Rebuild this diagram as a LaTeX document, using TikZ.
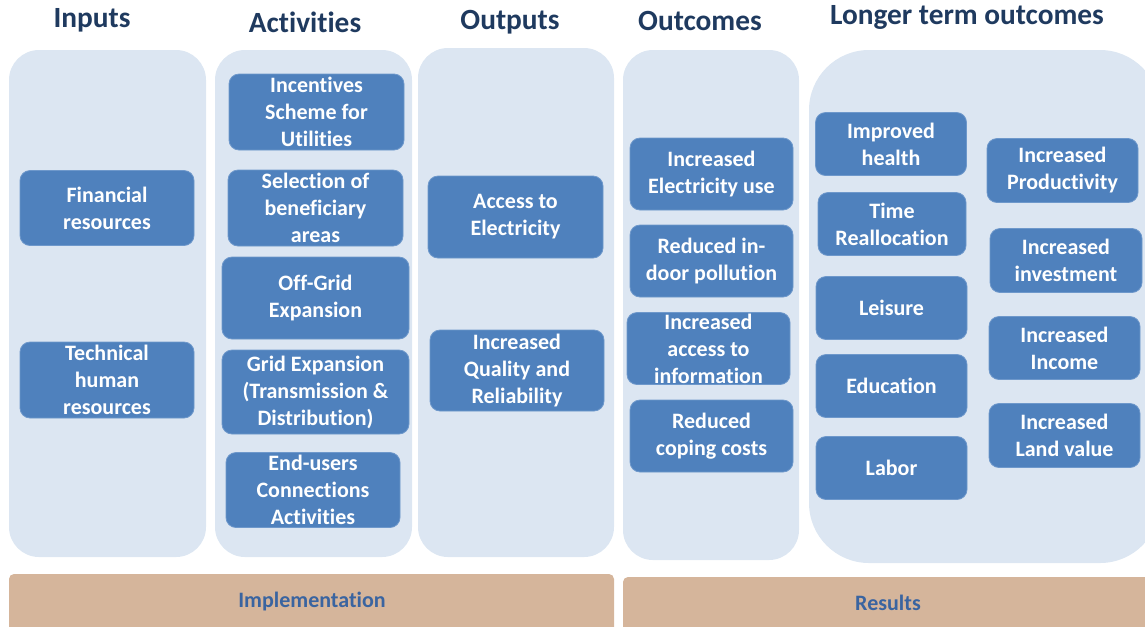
\documentclass[tikz,border=0pt]{standalone}
\usepackage{fontspec}
\setmainfont{Carlito}[Ligatures=NoCommon]
\definecolor{boxblue}{HTML}{4F81BD}
\definecolor{boxline}{HTML}{6E98CB}
\definecolor{panelbg}{HTML}{DCE6F2}
\definecolor{bartan}{HTML}{D5B59B}
\definecolor{headnavy}{HTML}{1F3A5F}
\definecolor{barlabel}{HTML}{3A64A0}

\begin{document}
\begin{tikzpicture}[
    x=0.75pt, y=-0.75pt,
    head/.style = {text=headnavy, font=\bfseries\fontsize{22}{26}\selectfont},
    panel/.style = {fill=panelbg, rounded corners=30*0.75pt},
    bar/.style = {fill=bartan, rounded corners=5*0.75pt},
    barlab/.style = {text=barlabel, font=\bfseries\fontsize{16.5}{20}\selectfont},
    box/.style = {draw=boxline, line width=0.6pt, fill=boxblue, rounded corners=10*0.75pt,
                  text=white, align=center, inner sep=0pt,
                  font=\bfseries\fontsize{16.5}{20.25}\selectfont},
    boxsize/.style 2 args = {minimum width=#1*0.75pt, minimum height=#2*0.75pt}
]
    \useasboundingbox (0,0) rectangle (1145,626);
    \clip (0,0) rectangle (1145,626);

    % --- Column headings ---
    \node[head] (hIn) at (92,20) {Inputs};
    \node[head] (hAct) at (305,22) {Activities};
    \node[head] (hOut) at (510,22) {Outputs};
    \node[head] (hOc) at (700,21) {Outcomes};
    \node[head] (hLt) at (967,17) {Longer term outcomes};

    % --- Background panels ---
    \fill[panel] (9,50) rectangle (206,557);
    \fill[panel] (215,50) rectangle (412,557);
    \fill[panel] (418,48) rectangle (614,557);
    \fill[panel] (623,50) rectangle (799,560);
    \fill[panel, rounded corners=60*0.75pt] (809,50) rectangle (1160,563);

    % --- Inputs ---
    \node[box, boxsize={174}{75}] (fin) at (107,208) {Financial\\resources};
    \node[box, boxsize={174}{76}] (tech) at (107,380) {Technical\\human\\resources};

    % --- Activities ---
    \node[box, boxsize={175}{76}] (incent) at (316.5,112) {Incentives\\Scheme for\\Utilities};
    \node[box, boxsize={175}{76}] (select) at (315.5,208) {Selection of\\beneficiary\\areas};
    \node[box, boxsize={187}{82}] (offgrid) at (315.5,298) {Off-Grid\\Expansion};
    \node[box, boxsize={187}{84}] (grid) at (315.5,392) {Grid Expansion\\(Transmission \&\\Distribution)};
    \node[box, boxsize={174}{75}] (users) at (313,490) {End-users\\Connections\\Activities};

    % --- Outputs ---
    \node[box, boxsize={175}{82}] (access) at (515.5,217) {Access to\\Electricity};
    \node[box, boxsize={174}{81}] (quality) at (517,370.5) {Increased\\Quality and\\Reliability};

    % --- Outcomes ---
    \node[box, boxsize={163}{72}] (elec) at (711.5,174) {Increased\\Electricity use};
    \node[box, boxsize={163}{72}] (pollut) at (711.5,261) {Reduced in-\\door pollution};
    \node[box, boxsize={163}{72}] (info) at (708.5,348.5) {Increased\\access to\\information};
    \node[box, boxsize={163}{72}] (coping) at (711.5,436) {Reduced\\coping costs};

    % --- Longer term outcomes, left column ---
    \node[box, boxsize={151}{63}] (health) at (891,144) {Improved\\health};
    \node[box, boxsize={148}{63}] (time) at (892,224) {Time\\Reallocation};
    \node[box, boxsize={151}{63}] (leisure) at (891.5,308) {Leisure};
    \node[box, boxsize={151}{63}] (educ) at (891.5,386) {Education};
    \node[box, boxsize={151}{63}] (labor) at (891.5,468) {Labor};

    % --- Longer term outcomes, right column ---
    \node[box, boxsize={151}{64}] (prod) at (1062.5,170.5) {Increased\\Productivity};
    \node[box, boxsize={152}{64}] (invest) at (1066,260.5) {Increased\\investment};
    \node[box, boxsize={151}{63}] (income) at (1064.5,348) {Increased\\Income};
    \node[box, boxsize={151}{64}] (land) at (1064.5,435.5) {Increased\\Land value};

    % --- Bottom bars ---
    \fill[bar] (9,574) rectangle (614,640);
    \fill[bar] (623,577) rectangle (1160,640);
    \node[barlab] (impl) at (312,601) {Implementation};
    \node[barlab] (res) at (888,603) {Results};
\end{tikzpicture}
\end{document}
